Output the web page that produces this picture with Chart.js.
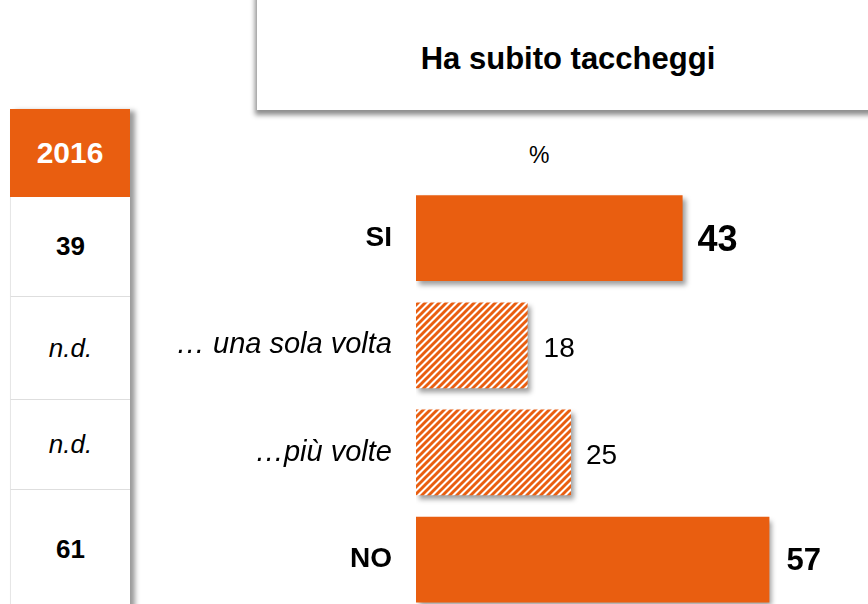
<!DOCTYPE html>
<html>
<head>
<meta charset="utf-8">
<script src="https://cdn.jsdelivr.net/npm/chart.js@4/dist/chart.umd.min.js"></script>
<style>
  html, body { margin: 0; padding: 0; background: #fff; overflow: hidden; }
  body { width: 868px; height: 604px; position: relative; font-family: "Liberation Sans", Arial, sans-serif; }
  #wrap { position: absolute; left: 0; top: 0; width: 868px; height: 654px; }
  #title-box {
    position: absolute; left: 257px; top: -10px; width: 640px; height: 120px;
    background: #fff; box-shadow: -2px 5px 5px rgba(0,0,0,0.45);
  }
  #title-box span {
    position: absolute; left: 0; width: 622px; top: 51px; text-align: center;
    font-weight: bold; font-size: 31px; color: #000;
  }
  #percent { position: absolute; left: 529px; top: 142px; font-size: 23px; color: #000; }
  #year-col {
    position: absolute; left: 10px; top: 109px; width: 120px; height: 520px;
    background: #fff; box-shadow: 5px 2px 5px rgba(0,0,0,0.4);
  }
  #year-col div {
    box-sizing: border-box; width: 120px; display: flex; align-items: center; justify-content: center;
    font-size: 26px; color: #000; border-bottom: 1px solid #dedede; border-left: 1px solid #e6e6e6;
  }
  #year-col div.head { background: #e95e10; color: #fff; font-weight: bold; font-size: 30px; border: none; }
</style>
</head>
<body>
<div id="title-box"><span id="title"></span></div>
<div id="percent">%</div>
<div id="year-col"></div>
<div id="wrap"><canvas id="chart" width="868" height="654"></canvas></div>
<script>
const chartTitle = "Ha subito taccheggi";
const categories = ["SI", "… una sola volta", "…più volte", "NO"];
const values = [43, 18, 25, 57];
const hatched = [false, true, true, false];
const yearLabel = "2016";
const yearValues = ["39", "n.d.", "n.d.", "61"];

const ORANGE = "rgb(233, 94, 16)";
const FONT = "'Liberation Sans', Arial, sans-serif";

document.getElementById("title").textContent = chartTitle;

// colonna 2016 a sinistra
const yearCol = document.getElementById("year-col");
const rowHeights = [88, 100, 103, 90, 120];
const head = document.createElement("div");
head.className = "head";
head.style.height = rowHeights[0] + "px";
head.textContent = yearLabel;
yearCol.appendChild(head);
yearValues.forEach((v, i) => {
  const cell = document.createElement("div");
  cell.style.height = rowHeights[i + 1] + "px";
  cell.textContent = v;
  if (v === "n.d.") {
    cell.style.fontStyle = "italic";
  } else {
    cell.style.fontWeight = "bold";
  }
  yearCol.appendChild(cell);
});

function makeHatch() {
  const s = 7;
  const c = document.createElement("canvas");
  c.width = s;
  c.height = s;
  const ctx = c.getContext("2d");
  ctx.fillStyle = "#fff";
  ctx.fillRect(0, 0, s, s);
  ctx.strokeStyle = ORANGE;
  ctx.lineWidth = 2.9;
  ctx.beginPath();
  ctx.moveTo(-1, s + 1); ctx.lineTo(s + 1, -1);
  ctx.moveTo(-s / 2 - 1, s / 2 + 1); ctx.lineTo(s / 2 + 1, -s / 2 - 1);
  ctx.moveTo(s / 2 - 1, s * 1.5 + 1); ctx.lineTo(s * 1.5 + 1, s / 2 - 1);
  ctx.stroke();
  return ctx.createPattern(c, "repeat");
}
const hatch = makeHatch();

const barShadow = {
  id: "barShadow",
  beforeDatasetsDraw(chart) {
    const ctx = chart.ctx;
    ctx.save();
    ctx.shadowColor = "rgba(0,0,0,0.38)";
    ctx.shadowBlur = 5;
    ctx.shadowOffsetX = 3;
    ctx.shadowOffsetY = 4;
  },
  afterDatasetsDraw(chart) {
    chart.ctx.restore();
    const ctx = chart.ctx;
    const meta = chart.getDatasetMeta(0);
    const labelStyle = [
      { font: "bold 36px " + FONT, dx: 15, dy: 3 },
      { font: "28px " + FONT, dx: 16, dy: 4 },
      { font: "28px " + FONT, dx: 15, dy: 4 },
      { font: "bold 31px " + FONT, dx: 17, dy: 2 },
    ];
    ctx.save();
    ctx.fillStyle = "#000";
    ctx.textBaseline = "middle";
    ctx.textAlign = "left";
    meta.data.forEach((bar, i) => {
      ctx.font = labelStyle[i].font;
      ctx.fillText(String(values[i]), bar.x + labelStyle[i].dx, bar.y + labelStyle[i].dy);
    });
    ctx.restore();
  },
};

new Chart(document.getElementById("chart"), {
  type: "bar",
  data: {
    labels: categories,
    datasets: [
      {
        data: values,
        backgroundColor: hatched.map(h => (h ? hatch : ORANGE)),
        borderWidth: 0,
        barPercentage: 0.8,
        categoryPercentage: 1,
      },
    ],
  },
  options: {
    indexAxis: "y",
    responsive: false,
    animation: false,
    layout: { padding: { top: 184.5, right: 18, left: 0, bottom: 0 } },
    plugins: { legend: { display: false }, tooltip: { enabled: false } },
    scales: {
      x: { display: false, min: 0, max: 70 },
      y: {
        afterFit: scale => { scale.width = 416; },
        grid: { display: false, drawTicks: false },
        border: { display: false },
        ticks: {
          padding: 24,
          color: "#000",
          font: ctx => {
            const lbl = categories[ctx.index];
            if (lbl === "SI" || lbl === "NO") {
              return { family: FONT, size: 28, weight: "bold" };
            }
            return { family: FONT, size: 29, style: "italic" };
          },
        },
      },
    },
  },
  plugins: [barShadow],
});
</script>
</body>
</html>
